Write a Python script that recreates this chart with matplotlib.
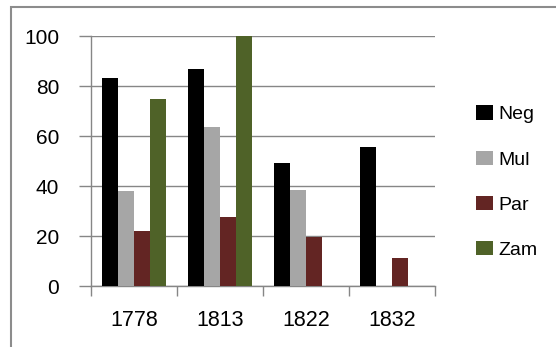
import matplotlib
matplotlib.use("Agg")
import matplotlib.pyplot as plt
from matplotlib.patches import Patch, Rectangle
import numpy as np

years = ["1778", "1813", "1822", "1832"]
series_names = ["Neg", "Mul", "Par", "Zam"]
neg = [83.2, 86.8, 49.2, 55.6]
mul = [38.0, 63.6, 38.4, 0]
par = [22.0, 27.6, 19.6, 11.2]
zam = [74.8, 100.0, 0, 0]
colors = ["#000000", "#A6A6A6", "#632523", "#4F6228"]
yticks = [0, 20, 40, 60, 80, 100]

plt.rcParams["font.family"] = ["Liberation Sans", "DejaVu Sans"]

W, H = 556, 347
fig = plt.figure(figsize=(W / 100, H / 100), dpi=100)

# outer chart frame (partly cut off on right and bottom)
fig.add_artist(Rectangle((11 / W, -0.05), 1.2, (H - 7) / H + 0.05,
                         transform=fig.transFigure, fill=False,
                         edgecolor="#8C8C8C", linewidth=1.5))

left, right, bottom, top = 91, 435, 286, 36
ax = fig.add_axes([left / W, 1 - bottom / H, (right - left) / W, (bottom - top) / H])

x = np.arange(len(years))
bw = 0.184
data = [neg, mul, par, zam]
for i, (vals, c) in enumerate(zip(data, colors)):
    ax.bar(x + (i - 1.5) * bw, vals, width=bw, color=c, label=series_names[i], zorder=3)

ax.set_xlim(-0.5, len(years) - 0.5)
ax.set_ylim(0, 100)
ax.set_yticks(yticks)
ax.set_yticklabels([str(v) for v in yticks], fontsize=15)
ax.yaxis.grid(True, color="#868686", linewidth=1, zorder=0)
ax.set_xticks(x)
ax.set_xticklabels(years, fontsize=15.5)
ax.tick_params(axis="x", length=0, pad=17)
ax.set_xticks(np.arange(len(years) + 1) - 0.5, minor=True)
ax.tick_params(axis="x", which="minor", length=7, color="#868686", width=1)
ax.tick_params(axis="y", length=9, color="#868686", width=1, pad=14)

for s in ["top", "right"]:
    ax.spines[s].set_visible(False)
for s in ["left", "bottom"]:
    ax.spines[s].set_color("#868686")
    ax.spines[s].set_linewidth(1)

handles = [Patch(facecolor=c, edgecolor="none") for c in colors]
fig.legend(handles, series_names, loc="upper left",
           bbox_to_anchor=(458 / W, 1 - 88 / H), frameon=False,
           fontsize=14, handlelength=0.9, handleheight=0.75,
           handletextpad=0.3, labelspacing=1.4)

fig.savefig("out.png", dpi=100)
